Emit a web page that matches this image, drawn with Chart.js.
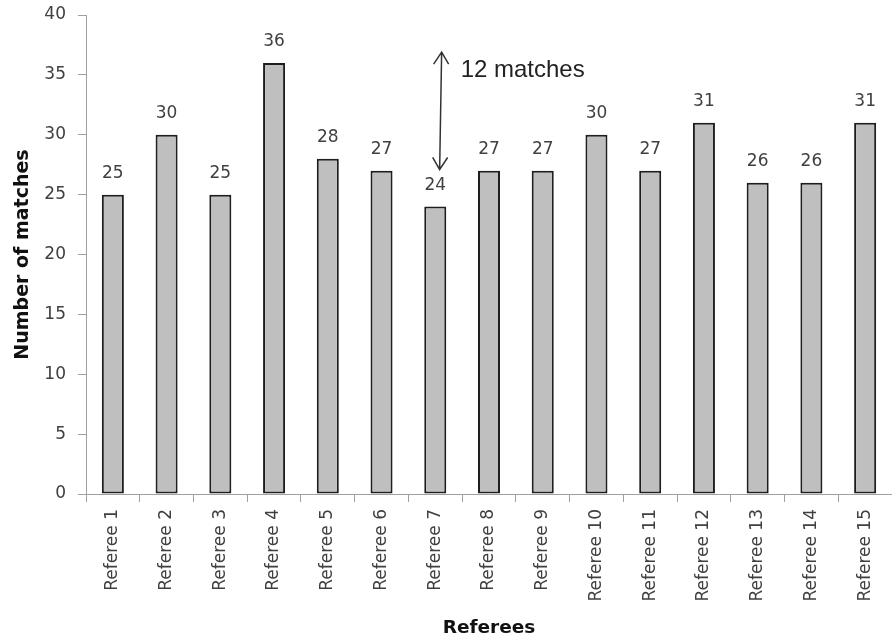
<!DOCTYPE html>
<html>
<head>
<meta charset="utf-8">
<script src="https://cdn.jsdelivr.net/npm/chart.js@4/dist/chart.umd.min.js"></script>
<style>
  html, body { margin: 0; padding: 0; background: #fff; }
  #wrap { position: relative; width: 892px; height: 639px; }
</style>
</head>
<body>
<div id="wrap"><canvas id="chart"></canvas></div>
<script>
// data
const referees = ['Referee 1','Referee 2','Referee 3','Referee 4','Referee 5','Referee 6','Referee 7','Referee 8',
                  'Referee 9','Referee 10','Referee 11','Referee 12','Referee 13','Referee 14','Referee 15'];
const matches  = [25, 30, 25, 36, 28, 27, 24, 27, 27, 30, 27, 31, 26, 26, 31];
const yTicks   = [0, 5, 10, 15, 20, 25, 30, 35, 40];

// "12 matches" arrow: category index, top value, bottom value
const arrowAt   = 6.1;
const arrowSpan = [36.9, 27.1];
const arrowText = '12 matches';

const TXT = '#404040';
const AXIS = '#a0a0a0';

// value labels above each bar
const barLabels = {
  id: 'barLabels',
  afterDatasetsDraw(chart) {
    const ctx = chart.ctx;
    const meta = chart.getDatasetMeta(0);
    ctx.save();
    ctx.font = '17px "DejaVu Sans"';
    ctx.fillStyle = TXT;
    ctx.textAlign = 'center';
    ctx.textBaseline = 'middle';
    meta.data.forEach((bar, i) => {
      ctx.fillText(String(matches[i]), bar.x, bar.y - 21);
    });
    ctx.restore();
  }
};

// double-headed arrow + text
const arrowNote = {
  id: 'arrowNote',
  afterDraw(chart) {
    const { ctx, scales: { x, y } } = chart;
    const step = x.getPixelForValue(1) - x.getPixelForValue(0);
    const ax = x.getPixelForValue(0) + arrowAt * step;
    const y1 = y.getPixelForValue(arrowSpan[0]);
    const y2 = y.getPixelForValue(arrowSpan[1]);
    ctx.save();
    ctx.strokeStyle = '#333';
    ctx.lineWidth = 1.5;
    ctx.beginPath();
    ctx.moveTo(ax + 1, y1);
    ctx.lineTo(ax - 1, y2);
    // heads
    ctx.moveTo(ax - 7, y1 + 12); ctx.lineTo(ax + 1, y1); ctx.lineTo(ax + 8, y1 + 12);
    ctx.moveTo(ax - 8, y2 - 12); ctx.lineTo(ax - 1, y2); ctx.lineTo(ax + 7, y2 - 12);
    ctx.stroke();
    ctx.font = '24px "Liberation Sans", Arial';
    ctx.fillStyle = '#222';
    ctx.textAlign = 'left';
    ctx.textBaseline = 'middle';
    ctx.fillText(arrowText, ax + 20, y.getPixelForValue(35.4));
    ctx.restore();
  }
};

new Chart(document.getElementById('chart'), {
  type: 'bar',
  data: {
    labels: referees,
    datasets: [{
      data: matches,
      backgroundColor: '#bfbfbf',
      borderColor: '#1e1e1e',
      borderWidth: 2,
      borderSkipped: false,
      categoryPercentage: 1,
      barPercentage: 0.41
    }]
  },
  options: {
    responsive: true, maintainAspectRatio: false, animation: false,
    layout: { padding: { top: 15, right: 0, left: 0, bottom: 0 } },
    plugins: { legend: { display: false }, tooltip: { enabled: false } },
    scales: {
      x: {
        grid: { drawOnChartArea: false, drawTicks: true, tickLength: 8, tickColor: AXIS, offset: true },
        border: { color: AXIS, width: 1 },
        ticks: { color: TXT, font: { family: 'DejaVu Sans', size: 17 }, minRotation: 90, maxRotation: 90, padding: 7, autoSkip: false },
        title: { display: true, text: 'Referees', color: '#111', font: { family: 'DejaVu Sans', size: 18.5, weight: 'bold' }, padding: { top: 0, bottom: 0 } },
        afterFit: s => { s.height = 145; s.paddingLeft = 0; s.paddingRight = 0; }
      },
      y: {
        min: 0, max: 40,
        grid: { drawOnChartArea: false, drawTicks: true, tickLength: 8, tickColor: AXIS },
        border: { color: AXIS, width: 1 },
        ticks: { color: TXT, font: { family: 'DejaVu Sans', size: 17 }, stepSize: 5, padding: 12,
                 callback: v => yTicks.includes(v) ? v : null },
        title: { display: true, text: 'Number of matches', color: '#111', font: { family: 'DejaVu Sans', size: 19, weight: 'bold' }, padding: { top: 12, bottom: 0 } },
        afterFit: s => { s.width = 86; s.paddingTop = 0; s.paddingBottom = 0; }
      }
    }
  },
  plugins: [barLabels, arrowNote]
});
</script>
</body>
</html>
